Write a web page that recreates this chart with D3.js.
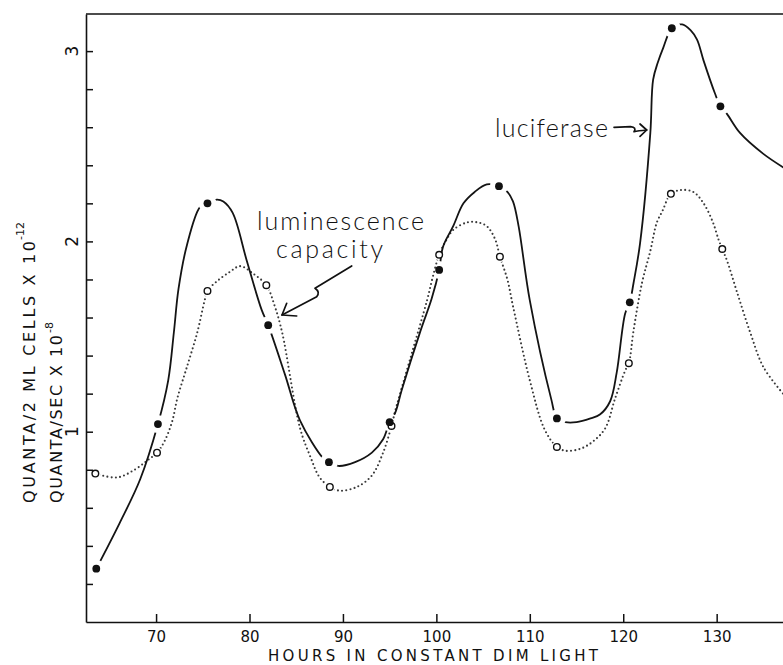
<!DOCTYPE html>
<html>
<head>
<meta charset="utf-8">
<script src="https://cdn.jsdelivr.net/npm/d3@7"></script>
<style>
  html, body { margin: 0; padding: 0; background: #fff; }
  svg { display: block; }
  text { font-family: "DejaVu Sans", sans-serif; fill: #111; }
  .note { font-family: "Lato", "Open Sans", sans-serif; font-weight: 300; }
</style>
</head>
<body>
<svg id="chart" width="783" height="665"></svg>
<script>
// Measured samples: luciferase (filled dots) and luminescence capacity (open circles)
const lucHours  = [63.6, 70.2, 75.5, 82.0, 88.5, 95.0, 100.3, 106.7, 112.9, 120.7, 125.2, 130.4];
const lucValues = [0.28, 1.04, 2.20, 1.56, 0.84, 1.05, 1.85, 2.29, 1.07, 1.68, 3.12, 2.71];
const lumHours  = [63.5, 70.1, 75.5, 81.8, 88.6, 95.2, 100.3, 106.8, 112.9, 120.6, 125.1, 130.6];
const lumValues = [0.78, 0.89, 1.74, 1.77, 0.71, 1.03, 1.93, 1.92, 0.92, 1.36, 2.25, 1.96];

// Hand-fitted curves through the samples
const lucCurveHours = [63.6, 66.1, 68.3, 70.2, 71.3, 71.9, 72.4, 73.3, 74.7, 75.5, 76.5, 77.2, 78.2, 79.7, 81.3, 82.0,
  83.8, 85.4, 87.9, 88.5, 89.5, 91.3, 93.1, 94.3, 95.0, 95.6, 96.3, 98.3, 99.5, 100.3, 100.7, 101.8, 102.9, 104.1,
  105.4, 106.7, 107.6, 108.2, 108.8, 110.0, 112.3, 112.9, 113.8, 115.0, 116.5, 117.5, 118.6, 119.3, 120.2, 120.7,
  121.1, 121.8, 122.9, 123.2, 123.7, 124.3, 125.2, 126.3, 127.2, 127.9, 128.6, 129.8, 130.4, 131.1, 132.5, 135.0, 137.1];
const lucCurveValues = [0.28, 0.52, 0.75, 1.04, 1.27, 1.52, 1.75, 1.98, 2.18, 2.20, 2.22, 2.21, 2.15, 1.90, 1.64, 1.56,
  1.30, 1.06, 0.86, 0.84, 0.82, 0.84, 0.89, 0.96, 1.05, 1.10, 1.22, 1.53, 1.70, 1.85, 1.97, 2.08, 2.20, 2.26,
  2.30, 2.29, 2.26, 2.21, 2.08, 1.69, 1.17, 1.07, 1.05, 1.05, 1.07, 1.09, 1.16, 1.31, 1.62, 1.68,
  1.78, 1.99, 2.57, 2.85, 2.94, 3.02, 3.12, 3.14, 3.11, 3.06, 2.95, 2.78, 2.71, 2.67, 2.57, 2.46, 2.39];

const lumCurveHours = [63.5, 64.2, 65.9, 67.7, 69.1, 70.1, 70.9, 71.7, 72.3, 73.3, 74.4, 75.2, 75.5, 76.5, 77.9, 79.0,
  80.4, 81.8, 82.7, 83.5, 85.4, 86.5, 87.5, 88.6, 89.7, 91.5, 93.1, 94.3, 95.2, 95.6, 97.3, 99.0, 99.6, 100.3,
  101.1, 101.8, 103.3, 104.4, 105.4, 106.3, 106.8, 107.6, 108.2, 110.0, 111.6, 112.9, 113.8, 115.4, 116.8, 118.1,
  119.1, 120.2, 120.6, 121.1, 122.0, 122.9, 123.6, 124.2, 124.8, 125.1, 126.1, 127.5, 128.6, 129.6, 130.2, 130.6,
  131.1, 132.2, 133.6, 135.0, 137.1];
const lumCurveValues = [0.78, 0.77, 0.76, 0.80, 0.85, 0.89, 0.95, 1.05, 1.18, 1.34, 1.52, 1.69, 1.74, 1.79, 1.84, 1.87,
  1.83, 1.77, 1.66, 1.52, 1.02, 0.87, 0.76, 0.71, 0.69, 0.71, 0.77, 0.89, 1.03, 1.11, 1.40, 1.69, 1.81, 1.93,
  2.01, 2.06, 2.10, 2.10, 2.08, 2.01, 1.92, 1.80, 1.66, 1.27, 1.01, 0.92, 0.90, 0.91, 0.95, 1.02,
  1.17, 1.32, 1.36, 1.53, 1.78, 1.95, 2.10, 2.16, 2.23, 2.25, 2.27, 2.26, 2.20, 2.10, 2.01, 1.96,
  1.90, 1.73, 1.52, 1.34, 1.20];

const xTicks = [70, 80, 90, 100, 110, 120, 130];
const yTicks = [0.2, 0.4, 0.6, 0.8, 1.0, 1.2, 1.4, 1.6, 1.8, 2.0, 2.2, 2.4, 2.6, 2.8, 3.0];
const yTickLabels = [1, 2, 3];
const xDomain = [62.5, 137.1];
const yDomain = [0, 3.195];

const svg = d3.select("#chart");
const x = d3.scaleLinear().domain(xDomain).range([86, 783]);
const y = d3.scaleLinear().domain(yDomain).range([622, 14]);

const zip = (hs, vs) => hs.map((h, i) => [h, vs[i]]);
const lucPts = zip(lucHours, lucValues);
const lumPts = zip(lumHours, lumValues);

const defs = svg.append("defs");
defs.append("clipPath").attr("id", "plotClip")
  .append("rect").attr("x", x(xDomain[0])).attr("y", y(yDomain[1]))
  .attr("width", x(xDomain[1]) - x(xDomain[0])).attr("height", y(yDomain[0]) - y(yDomain[1]));

// the solid curve breaks around each filled dot
const lucMask = defs.append("mask").attr("id", "lucGap").attr("maskUnits", "userSpaceOnUse")
  .attr("x", 0).attr("y", 0).attr("width", 783).attr("height", 665);
lucMask.append("rect").attr("width", 783).attr("height", 665).attr("fill", "#fff");
lucMask.selectAll("circle").data(lucPts).join("circle")
  .attr("cx", d => x(d[0])).attr("cy", d => y(d[1])).attr("r", 9).attr("fill", "#000");

const lumMask = defs.append("mask").attr("id", "lumGap").attr("maskUnits", "userSpaceOnUse")
  .attr("x", 0).attr("y", 0).attr("width", 783).attr("height", 665);
lumMask.append("rect").attr("width", 783).attr("height", 665).attr("fill", "#fff");
lumMask.selectAll("circle").data(lumPts).join("circle")
  .attr("cx", d => x(d[0])).attr("cy", d => y(d[1])).attr("r", 5.5).attr("fill", "#000");

const line = d3.line().x(d => x(d[0])).y(d => y(d[1])).curve(d3.curveCatmullRom.alpha(0.5));

const plot = svg.append("g").attr("clip-path", "url(#plotClip)");

plot.append("path")
  .datum(zip(lumCurveHours, lumCurveValues))
  .attr("d", line)
  .attr("mask", "url(#lumGap)")
  .attr("fill", "none")
  .attr("stroke", "#3a3a3a")
  .attr("stroke-width", 2.1)
  .attr("stroke-linecap", "round")
  .attr("stroke-dasharray", "0 4.2");

plot.append("path")
  .datum(zip(lucCurveHours, lucCurveValues))
  .attr("d", line)
  .attr("mask", "url(#lucGap)")
  .attr("fill", "none")
  .attr("stroke", "#141414")
  .attr("stroke-width", 1.8)
  .attr("stroke-linecap", "round");

svg.append("g").selectAll("circle").data(lumPts).join("circle")
  .attr("cx", d => x(d[0])).attr("cy", d => y(d[1])).attr("r", 3.3)
  .attr("fill", "#fff").attr("stroke", "#111").attr("stroke-width", 1.4);

svg.append("g").selectAll("circle").data(lucPts).join("circle")
  .attr("cx", d => x(d[0])).attr("cy", d => y(d[1])).attr("r", 3.9)
  .attr("fill", "#111");

// Axes: ticks point inward
const xAxis = svg.append("g").attr("transform", `translate(0,${y(yDomain[0])})`)
  .call(d3.axisBottom(x).tickValues(xTicks).tickSizeInner(-8).tickSizeOuter(0).tickPadding(9));
xAxis.selectAll("text").attr("font-size", 15).attr("font-family", "DejaVu Sans").attr("fill", "#111");

const yAxis = svg.append("g").attr("transform", `translate(${x(xDomain[0])},0)`)
  .call(d3.axisLeft(y).tickValues(yTicks).tickSizeInner(-7).tickSizeOuter(0).tickFormat(""));

[xAxis, yAxis].forEach(g => {
  g.select(".domain").attr("stroke", "#111").attr("stroke-width", 1.6);
  g.selectAll(".tick line").attr("stroke", "#111").attr("stroke-width", 1.5);
});

svg.append("line")
  .attr("x1", x(xDomain[0])).attr("x2", x(xDomain[1]))
  .attr("y1", y(yDomain[1])).attr("y2", y(yDomain[1]))
  .attr("stroke", "#111").attr("stroke-width", 1.6);

// y tick labels, written sideways like the axis title
svg.append("g").selectAll("text").data(yTickLabels).join("text")
  .attr("transform", d => `translate(78,${y(d)}) rotate(-90)`)
  .attr("text-anchor", "middle")
  .attr("font-size", 17)
  .text(d => d);

// axis titles
svg.append("text")
  .attr("x", 433).attr("y", 661)
  .attr("text-anchor", "middle")
  .attr("font-size", 15)
  .attr("textLength", 330).attr("lengthAdjust", "spacing")
  .text("HOURS IN CONSTANT DIM LIGHT");

svg.append("text")
  .attr("transform", "translate(35,503) rotate(-90)")
  .attr("font-size", 16)
  .attr("textLength", 262).attr("lengthAdjust", "spacing")
  .text("QUANTA/2 ML CELLS X 10");
svg.append("text")
  .attr("transform", "translate(24,240) rotate(-90)")
  .attr("font-size", 11)
  .text("-12");

svg.append("text")
  .attr("transform", "translate(62,503) rotate(-90)")
  .attr("font-size", 16)
  .attr("textLength", 168).attr("lengthAdjust", "spacing")
  .text("QUANTA/SEC X 10");
svg.append("text")
  .attr("transform", "translate(53,333) rotate(-90)")
  .attr("font-size", 11)
  .text("-8");

// curve labels with pointer arrows
svg.append("text").attr("class", "note")
  .attr("x", 257).attr("y", 230).attr("font-size", 25)
  .attr("textLength", 167).attr("lengthAdjust", "spacing")
  .text("luminescence");
svg.append("text").attr("class", "note")
  .attr("x", 276).attr("y", 258).attr("font-size", 25)
  .attr("textLength", 107).attr("lengthAdjust", "spacing")
  .text("capacity");
svg.append("text").attr("class", "note")
  .attr("x", 495).attr("y", 137).attr("font-size", 25)
  .attr("textLength", 113).attr("lengthAdjust", "spacing")
  .text("luciferase");

const arrows = svg.append("g").attr("fill", "none").attr("stroke", "#111")
  .attr("stroke-width", 1.7).attr("stroke-linejoin", "round").attr("stroke-linecap", "round");
arrows.append("path").attr("d", "M351.7,266 L315,288.3 Q320.5,292 316.7,296.7 L282,315");
arrows.append("path").attr("d", "M286.7,303.3 L282,315 L296.7,316");
arrows.append("path").attr("d", "M614,127.3 L630.5,126.7 Q637,127.5 634,131.7 Q638,130.8 646.7,130");
arrows.append("path").attr("d", "M640,124 L646.7,130 L640,136.3");
</script>
</body>
</html>
